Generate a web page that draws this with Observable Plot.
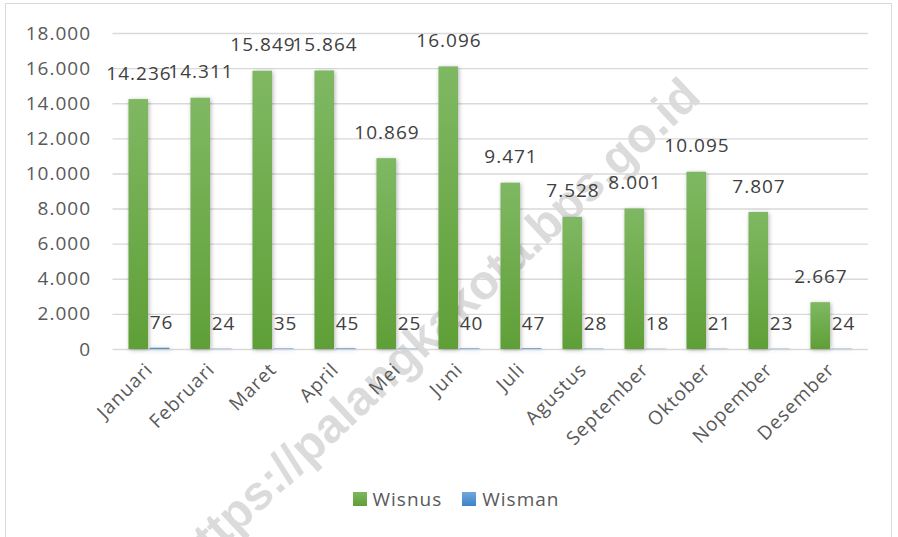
<!DOCTYPE html>
<html>
<head>
<meta charset="utf-8">
<script src="https://cdn.jsdelivr.net/npm/d3@7"></script>
<script src="https://cdn.jsdelivr.net/npm/@observablehq/plot@0.6"></script>
<style>
  html, body { margin: 0; padding: 0; background: #fff; }
  #wrap { position: relative; width: 898px; height: 537px; overflow: hidden; font-family: "Open Sans", sans-serif; }
  #frame { position: absolute; left: 5px; top: 3px; width: 887px; height: 600px; border: 1.5px solid #d9d9d9; box-sizing: border-box; }
  #chart { position: absolute; left: 0; top: 0; }
  #legend { position: absolute; left: 0; top: 486px; width: 898px; display: flex; justify-content: center; gap: 20px; font-size: 19px; letter-spacing: 1px; color: #595959; padding-left: 14px; box-sizing: border-box; }
  #legend span.item { display: flex; align-items: center; gap: 6px; }
  #legend span.sw { display: inline-block; width: 14px; height: 14px; }
  #wm { position: absolute; left: 0; top: 0; pointer-events: none; }
</style>
</head>
<body>
<div id="wrap">
  <div id="frame"></div>
  <svg id="wm" width="898" height="537">
    <text x="694" y="90" transform="rotate(-43 694 90)" text-anchor="end" dominant-baseline="middle"
      font-family="Liberation Sans" font-weight="700" font-size="48.5" fill="#000" fill-opacity="0.14">https://palangkakota.bps.go.id</text>
  </svg>
  <div id="chart"></div>
  <div id="legend">
    <span class="item"><span class="sw" style="background:linear-gradient(#7db85e,#5f9e37)"></span>Wisnus</span>
    <span class="item"><span class="sw" style="background:linear-gradient(#6fa8dc,#3f82c8)"></span>Wisman</span>
  </div>
</div>
<script>
const months = ["Januari","Februari","Maret","April","Mei","Juni","Juli","Agustus","September","Oktober","Nopember","Desember"];
const wisnus = [14236,14311,15849,15864,10869,16096,9471,7528,8001,10095,7807,2667];
const wisman = [76,24,35,45,25,40,47,28,18,21,23,24];
const yTicks = [0,2000,4000,6000,8000,10000,12000,14000,16000,18000];

const loc = d3.formatLocale({decimal: ",", thousands: ".", grouping: [3], currency: ["", ""]});
const fmt = loc.format(",d");

const rows = months.map((m, i) => ({month: m, wisnus: wisnus[i], wisman: wisman[i]}));

const textColor = "#595959";
const fs = 19;

const svg = Plot.plot({
  width: 898,
  height: 470,
  marginLeft: 112.5,
  marginRight: 30,
  marginTop: 33,
  marginBottom: 121,
  style: {fontFamily: "Open Sans", fontSize: fs + "px", color: textColor, background: "transparent", letterSpacing: "1px"},
  x: {domain: months, padding: 0, label: null, tickSize: 0, tickPadding: 17, tickRotate: -45},
  y: {domain: [0, 18000], ticks: yTicks, tickFormat: fmt, label: null, tickSize: 0, tickPadding: 22},
  marks: [
    Plot.ruleY(yTicks, {stroke: "#d9d9d9", strokeWidth: 1.4}),
    Plot.barY(rows, {x: "month", y: "wisnus", fill: "url(#gW)", insetLeft: 10.5, insetRight: 32}),
    Plot.barY(rows, {x: "month", y: "wisman", fill: "url(#gM)", insetLeft: 31.5, insetRight: 10.5}),
    Plot.text(rows, {x: "month", y: "wisnus", text: d => fmt(d.wisnus), dx: -10.5, dy: -26, fill: "#404040", fontSize: fs}),
    Plot.text(rows, {x: "month", y: "wisman", text: d => fmt(d.wisman), dx: 12, dy: -25, fill: "#404040", fontSize: fs})
  ]
});

svg.insertAdjacentHTML("afterbegin",
  '<defs>' +
  '<linearGradient id="gW" x1="0" y1="0" x2="0" y2="1"><stop offset="0" stop-color="#7fb862"/><stop offset="1" stop-color="#5f9f37"/></linearGradient>' +
  '<linearGradient id="gM" x1="0" y1="0" x2="0" y2="1"><stop offset="0" stop-color="#6fa8dc"/><stop offset="1" stop-color="#3f82c8"/></linearGradient>' +
  '</defs>');
svg.querySelectorAll('g[aria-label="bar"]').forEach(g => g.style.filter = "drop-shadow(1px 1px 2px rgba(0,0,0,0.3))");
document.getElementById("chart").appendChild(svg);
</script>
</body>
</html>
